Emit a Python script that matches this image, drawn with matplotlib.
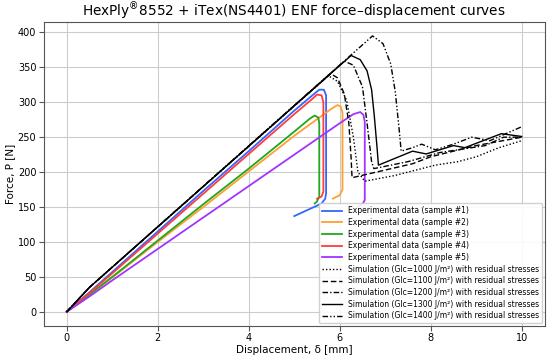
import matplotlib
matplotlib.use("Agg")
import matplotlib.pyplot as plt

#------------------------------- DATA ----------------------------------------

# experimental curves (displacement [mm], force [N])
exp1_x = [0, 0.5, 1, 2, 3, 4, 5, 5.4, 5.55, 5.65, 5.7, 5.7, 5.68, 5.6, 5.3, 5.0]
exp1_y = [0, 28, 57, 115, 173, 230, 288, 310, 318, 318, 310, 170, 162, 155, 146, 137]

exp2_x = [0, 0.5, 1, 2, 3, 4, 5, 5.8, 5.95, 6.02, 6.06, 6.06, 6.0, 5.85]
exp2_y = [0, 24, 49, 100, 150, 201, 252, 290, 296, 294, 285, 175, 167, 162]

exp3_x = [0, 0.5, 1, 2, 3, 4, 5, 5.35, 5.45, 5.53, 5.55, 5.55, 5.5, 5.45]
exp3_y = [0, 25, 50, 102, 154, 205, 258, 277, 281, 278, 270, 165, 158, 155]

exp4_x = [0, 0.5, 1, 2, 3, 4, 5, 5.4, 5.5, 5.6, 5.64, 5.64, 5.6, 5.5]
exp4_y = [0, 27, 55, 112, 169, 226, 283, 305, 311, 310, 300, 172, 165, 162]

exp5_x = [0, 0.5, 1, 2, 3, 4, 5, 6, 6.3, 6.45, 6.52, 6.55, 6.55, 6.5, 6.4]
exp5_y = [0, 22, 45, 90, 135, 180, 225, 270, 283, 286, 282, 272, 160, 154, 151]

# simulation curves (shared elastic branch, then softening + plateau)
sim1000_x = [0, 0.5, 5.75, 5.95, 6.15, 6.3, 6.4, 6.55, 7.2, 7.8, 8.1, 8.6, 9.0, 9.5, 10.0]
sim1000_y = [0, 35, 338, 330, 303, 250, 200, 187, 195, 205, 210, 215, 222, 235, 245]

sim1100_x = [0, 0.5, 5.8, 5.95, 6.1, 6.2, 6.25, 6.27, 7.0, 7.6, 8.0, 8.5, 9.0, 9.5, 10.0]
sim1100_y = [0, 35, 341, 335, 312, 270, 220, 192, 203, 212, 222, 230, 238, 244, 250]

sim1200_x = [0, 0.5, 6.1, 6.3, 6.5, 6.6, 6.7, 6.75, 7.5, 8.2, 8.6, 9.2, 9.6, 10.0]
sim1200_y = [0, 35, 359, 353, 322, 270, 215, 205, 215, 228, 232, 238, 250, 250]

sim1300_x = [0, 0.5, 6.25, 6.45, 6.6, 6.7, 6.76, 6.82, 6.85, 7.6, 7.9, 8.5, 8.75, 9.55, 10.0]
sim1300_y = [0, 35, 367, 361, 345, 318, 280, 235, 210, 230, 226, 238, 235, 255, 251]

sim1400_x = [0, 0.5, 6.72, 6.95, 7.12, 7.22, 7.3, 7.35, 7.6, 7.8, 8.1, 8.5, 8.9, 9.3, 10.0]
sim1400_y = [0, 35, 395, 384, 355, 315, 265, 230, 235, 240, 232, 240, 250, 245, 265]

exp_labels = ["Experimental data (sample #%d)" % i for i in range(1, 6)]
glc_values = [1000, 1100, 1200, 1300, 1400]

#------------------------------- PLOT ----------------------------------------

fig, ax = plt.subplots(figsize=(5.5, 3.57), dpi=100)

exp_colors = ["#3465ff", "#ffa031", "#1fa81f", "#ff3d3d", "#a134ff"]
exp_data = [(exp1_x, exp1_y), (exp2_x, exp2_y), (exp3_x, exp3_y),
            (exp4_x, exp4_y), (exp5_x, exp5_y)]

for (x, y), c, lab in zip(exp_data, exp_colors, exp_labels):
    ax.plot(x, y, color=c, lw=1.3, label=lab)

sim_styles = [(0, (1, 1.5)), (0, (4, 2)), (0, (4, 1.5, 1, 1.5)), "-",
              (0, (4, 1.5, 1, 1.5, 1, 1.5))]
sim_data = [(sim1000_x, sim1000_y), (sim1100_x, sim1100_y),
            (sim1200_x, sim1200_y), (sim1300_x, sim1300_y),
            (sim1400_x, sim1400_y)]

for (x, y), ls, g in zip(sim_data, sim_styles, glc_values):
    ax.plot(x, y, color="black", lw=1.0, linestyle=ls,
            label="Simulation (Glc=%d J/m²) with residual stresses" % g)

ax.set_title("HexPly$^{®}$8552 + iTex(NS4401) ENF force\u2013displacement curves",
             fontsize=9.8, pad=4)
ax.set_xlabel("Displacement, δ [mm]", fontsize=7.5, labelpad=1)
ax.set_ylabel("Force, P [N]", fontsize=7.5, labelpad=2)
ax.tick_params(labelsize=7, color="#555555", pad=2)
ax.grid(True, color="#cccccc", lw=0.8)
for s in ax.spines.values():
    s.set_color("#555555")

ax.legend(loc="lower right", fontsize=5.5, handlelength=2.6,
          labelspacing=0.35, borderaxespad=0.3, framealpha=0.9)

plt.subplots_adjust(left=0.08, right=0.99, top=0.938, bottom=0.088)
fig.savefig("out.png", dpi=100)
